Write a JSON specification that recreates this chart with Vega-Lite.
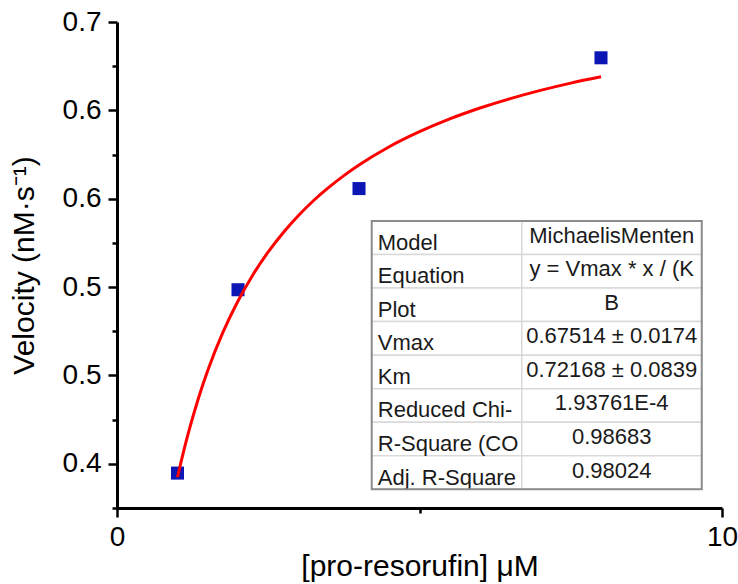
{
  "$schema": "https://vega.github.io/schema/vega-lite/v6.json",
  "autosize": "none",
  "width": 605,
  "height": 486,
  "padding": {"left": 117, "top": 22, "right": 16, "bottom": 76},
  "background": "white",
  "config": {
    "view": {"stroke": null},
    "font": "Liberation Sans",
    "axis": {
      "grid": false,
      "domainColor": "black",
      "domainWidth": 3,
      "tickColor": "black",
      "tickWidth": 2.5,
      "labelColor": "black",
      "titleColor": "black",
      "labelFont": "Liberation Sans",
      "titleFont": "Liberation Sans",
      "labelFontSize": 28,
      "titleFontSize": 30,
      "titleFontWeight": "normal",
      "labelOverlap": false,
      "labelFlush": false
    }
  },
  "datasets": {
    "points": [
      {"conc": 1, "velocity": 0.3937},
      {"conc": 2, "velocity": 0.5182},
      {"conc": 4, "velocity": 0.5869},
      {"conc": 8, "velocity": 0.6757}
    ],
    "curve": [
      {"conc": 1.0, "velocity": 0.3909},
      {"conc": 1.1, "velocity": 0.4083},
      {"conc": 1.2, "velocity": 0.424},
      {"conc": 1.35, "velocity": 0.445},
      {"conc": 1.5, "velocity": 0.4633},
      {"conc": 1.75, "velocity": 0.4892},
      {"conc": 2.0, "velocity": 0.5106},
      {"conc": 2.25, "velocity": 0.5286},
      {"conc": 2.5, "velocity": 0.5439},
      {"conc": 2.75, "velocity": 0.5571},
      {"conc": 3.0, "velocity": 0.5686},
      {"conc": 3.25, "velocity": 0.5788},
      {"conc": 3.5, "velocity": 0.5877},
      {"conc": 3.75, "velocity": 0.5957},
      {"conc": 4.0, "velocity": 0.6029},
      {"conc": 4.5, "velocity": 0.6153},
      {"conc": 5.0, "velocity": 0.6255},
      {"conc": 5.5, "velocity": 0.6342},
      {"conc": 6.0, "velocity": 0.6416},
      {"conc": 6.5, "velocity": 0.648},
      {"conc": 7.0, "velocity": 0.6536},
      {"conc": 7.5, "velocity": 0.6585},
      {"conc": 8.0, "velocity": 0.6628}
    ],
    "table": [
      {"row": 1, "label": "Model", "value": "MichaelisMenten"},
      {"row": 2, "label": "Equation", "value": "y = Vmax * x / (K"},
      {"row": 3, "label": "Plot", "value": "B"},
      {"row": 4, "label": "Vmax", "value": "0.67514 ± 0.0174"},
      {"row": 5, "label": "Km", "value": "0.72168 ± 0.0839"},
      {"row": 6, "label": "Reduced Chi-", "value": "1.93761E-4"},
      {"row": 7, "label": "R-Square (CO", "value": "0.98683"},
      {"row": 8, "label": "Adj. R-Square", "value": "0.98024"}
    ]
  },
  "layer": [
    {
      "encoding": {
        "x": {
          "field": "conc",
          "type": "quantitative",
          "scale": {"domain": [0, 10], "nice": false, "zero": false},
          "title": "[pro-resorufin] μM",
          "axis": {
            "values": [0, 5, 10],
            "labelExpr": "datum.value == 5 ? '' : format(datum.value, 'd')",
            "tickSize": {"condition": {"test": "datum.value == 5", "value": 5}, "value": 9},
            "labelPadding": 6,
            "titleBaseline": "alphabetic",
            "titleY": 67
          }
        },
        "y": {
          "field": "velocity",
          "type": "quantitative",
          "scale": {"domain": [0.37, 0.7], "nice": false, "zero": false},
          "title": "Velocity (nM·s⁻¹)",
          "axis": {
            "values": [0.37, 0.4, 0.43, 0.46, 0.49, 0.52, 0.55, 0.58, 0.61, 0.64, 0.67, 0.7],
            "labelExpr": "abs(round(datum.value * 100) - 40) % 6 == 0 ? format(datum.value, '.1f') : ''",
            "tickSize": {"condition": {"test": "abs(round(datum.value * 100) - 40) % 6 == 0", "value": 9}, "value": 5},
            "labelPadding": 7,
            "titleAngle": -90,
            "titleBaseline": "alphabetic",
            "titleAlign": "center",
            "titleX": -84,
            "titleY": 243
          }
        }
      },
      "layer": [
        {
          "data": {"name": "points"},
          "mark": {"type": "point", "shape": "square", "filled": true, "size": 170, "color": "#0b16b5", "opacity": 1}
        },
        {
          "data": {"name": "curve"},
          "mark": {"type": "line", "color": "#ff0000", "strokeWidth": 3, "interpolate": "monotone"}
        }
      ]
    },
    {
      "data": {"name": "table"},
      "encoding": {
        "y": {
          "field": "row",
          "type": "ordinal",
          "scale": {"type": "band", "range": [199, 467.3], "paddingInner": 0, "paddingOuter": 0},
          "axis": null
        }
      },
      "layer": [
        {
          "mark": {"type": "rect", "fill": "white", "stroke": "#d9d9d9", "strokeWidth": 1.5},
          "encoding": {"x": {"datum": 4.21, "type": "quantitative"}, "x2": {"datum": 6.69}}
        },
        {
          "mark": {"type": "rect", "fill": "white", "stroke": "#d9d9d9", "strokeWidth": 1.5},
          "encoding": {"x": {"datum": 6.69, "type": "quantitative"}, "x2": {"datum": 9.665}}
        },
        {
          "mark": {"type": "text", "align": "left", "baseline": "middle", "dy": 5, "fontSize": 22, "font": "Liberation Sans", "color": "#1a1a1a"},
          "encoding": {"x": {"datum": 4.31, "type": "quantitative"}, "text": {"field": "label"}}
        },
        {
          "mark": {"type": "text", "align": "center", "baseline": "middle", "dy": -2, "fontSize": 22, "font": "Liberation Sans", "color": "#1a1a1a"},
          "encoding": {"x": {"datum": 8.177, "type": "quantitative"}, "text": {"field": "value"}}
        },
        {
          "data": {"values": [{"first": 1, "last": 8}]},
          "mark": {"type": "rect", "fill": null, "filled": false, "stroke": "#8c8c8c", "strokeWidth": 2},
          "encoding": {
            "x": {"datum": 4.21, "type": "quantitative"},
            "x2": {"datum": 9.665},
            "y": {"field": "first", "type": "ordinal", "bandPosition": 0},
            "y2": {"field": "last", "bandPosition": 1}
          }
        }
      ]
    }
  ],
  "resolve": {"scale": {"y": "independent"}}
}
